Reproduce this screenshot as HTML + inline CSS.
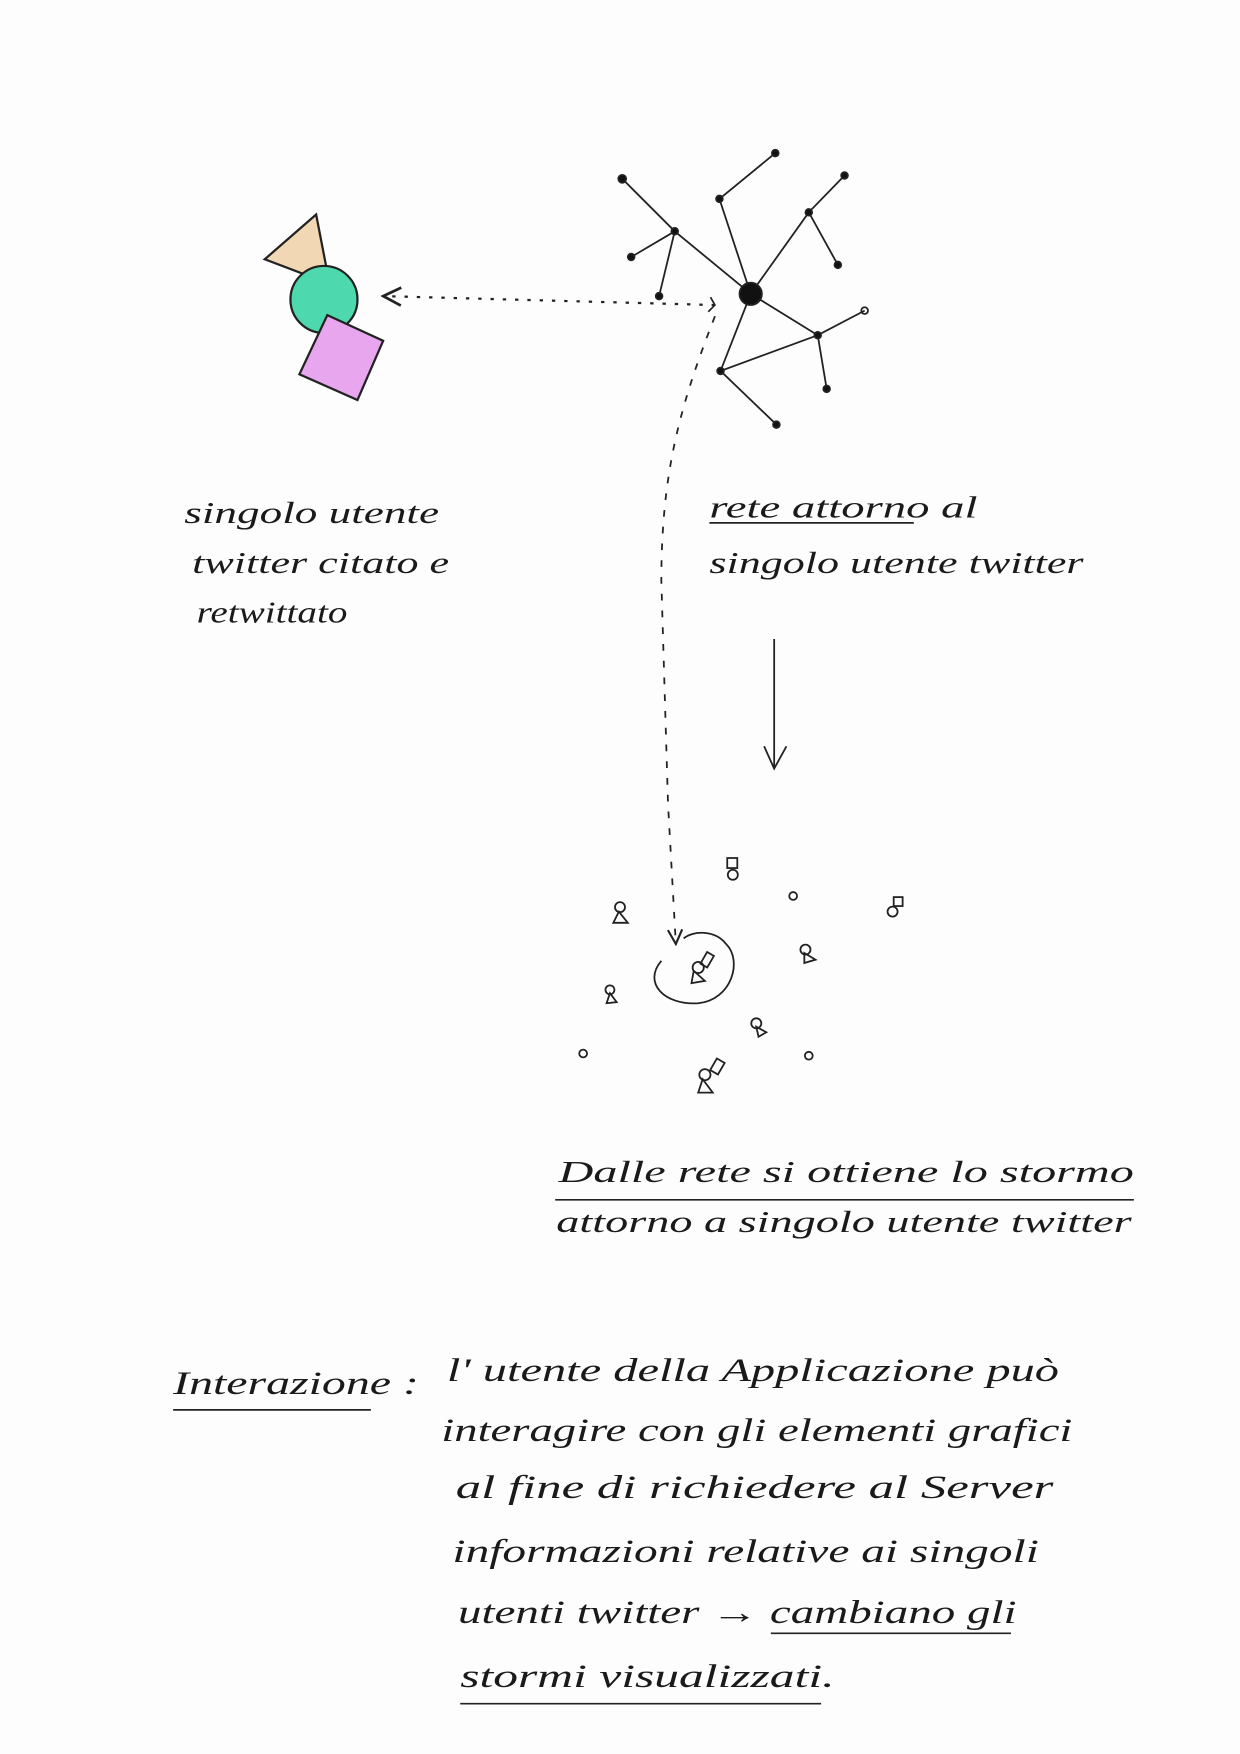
<!DOCTYPE html>
<html><head><meta charset="utf-8"><style>
html,body{margin:0;padding:0;background:#fdfdfd;}
svg{display:block}
text{font-family:"Liberation Serif",serif;font-style:italic;fill:#1a1a1a;}
</style></head><body>
<svg width="1240" height="1754" viewBox="0 0 1110 1570" xmlns="http://www.w3.org/2000/svg">
<rect width="1110" height="1570" fill="#fdfdfd"/>
<defs>
<marker id="ah" viewBox="0 0 10 10" refX="9" refY="5" markerWidth="10" markerHeight="10" orient="auto"><path d="M1 1 L9 5 L1 9" fill="none" stroke="#222" stroke-width="1.2"/></marker>
</defs>
<!-- user shapes -->
<g stroke="#222" stroke-width="2">
<polygon points="237,232 283,192 295,254" fill="#f1d7b3"/>
<circle cx="290" cy="268" r="30" fill="#4ed8ad"/>
<polygon points="293,282 343,305 320,358 268,335" fill="#e8a6ef"/>
</g>
<!-- network -->
<g stroke="#222" stroke-width="1.6" fill="#111">
<path d="M672,263 L604,207 L557,160 M604,207 L565,230 M604,207 L590,265 M672,263 L644,178 L694,137 M672,263 L724,190 L756,157 M724,190 L750,237 M672,263 L732,300 L774,278 M732,300 L740,348 M672,263 L645,332 L732,300 M645,332 L695,380" fill="none"/>
<circle cx="672" cy="263" r="10"/>
<circle cx="604" cy="207" r="3"/><circle cx="557" cy="160" r="3.5"/><circle cx="565" cy="230" r="3"/><circle cx="590" cy="265" r="3"/>
<circle cx="644" cy="178" r="3"/><circle cx="694" cy="137" r="3"/><circle cx="724" cy="190" r="3"/><circle cx="756" cy="157" r="3"/><circle cx="750" cy="237" r="3"/>
<circle cx="732" cy="300" r="3"/><circle cx="774" cy="278" r="3" fill="none"/><circle cx="740" cy="348" r="3"/><circle cx="645" cy="332" r="3"/><circle cx="695" cy="380" r="3"/>
</g>
<!-- dotted arrows -->
<path d="M640,273 L343,265" stroke="#222" stroke-width="2" stroke-dasharray="3,8" fill="none" marker-end="url(#ah)"/>
<path d="M636,266 L640,273 L634,279" stroke="#222" stroke-width="1.5" fill="none"/>
<path d="M640,283 C610,360 592,420 592,520 L598,720 L605,845" stroke="#222" stroke-width="1.6" stroke-dasharray="6,9" fill="none" marker-end="url(#ah)"/>
<!-- down arrow -->
<g stroke="#222" stroke-width="1.6" fill="none">
<path d="M693,572 L693,688 M684,668 L693,688 L704,668"/>
</g>
<!-- flock -->
<g stroke="#222" stroke-width="1.6" fill="none">
<path d="M592,860 C575,880 595,900 625,898 C655,895 665,860 650,845 C640,832 620,833 612,840"/>
<g transform="translate(625,866)"><circle r="5"/><path d="M-4,3 L-6,14 L6,12 Z"/><rect x="0" y="-16" width="7" height="12" transform="rotate(30)"/></g>
<g transform="translate(555,812)"><circle r="4.5"/><path d="M-1,4 L-6,14 L7,14 Z"/></g>
<g transform="translate(656,783)"><circle r="4.5"/><rect x="-5" y="-15" width="9" height="9"/></g>
<circle cx="710" cy="802" r="3.5"/>
<g transform="translate(799,816)"><circle r="4.5"/><rect x="1" y="-13" width="8" height="8"/></g>
<g transform="translate(721,850)"><circle r="4.5"/><path d="M-1,3 L-1,12 L9,9 Z"/></g>
<g transform="translate(546,886)"><circle r="4"/><path d="M0,3 L-3,12 L6,11 Z"/></g>
<g transform="translate(677,916)"><circle r="4.5"/><path d="M0,3 L2,12 L9,8 Z"/></g>
<circle cx="522" cy="943" r="3.5"/>
<circle cx="724" cy="945" r="3.5"/>
<g transform="translate(631,962)"><circle r="5"/><path d="M-2,4 L-6,16 L7,16 Z"/><rect x="2" y="-18" width="8" height="12" transform="rotate(30)"/></g>
</g>
<!-- labels -->
<g font-size="27">
<text x="165" y="468" textLength="228" lengthAdjust="spacingAndGlyphs">singolo utente</text>
<text x="172" y="513" textLength="230" lengthAdjust="spacingAndGlyphs">twitter citato e</text>
<text x="176" y="557" textLength="135" lengthAdjust="spacingAndGlyphs">retwittato</text>
</g>
<g font-size="27">
<text x="635" y="463" textLength="240" lengthAdjust="spacingAndGlyphs">rete attorno al</text>
<line x1="635" y1="468" x2="818" y2="468" stroke="#222" stroke-width="1.5"/>
<text x="635" y="513" textLength="335" lengthAdjust="spacingAndGlyphs">singolo utente twitter</text>
</g>
<g font-size="27">
<text x="500" y="1058" textLength="515" lengthAdjust="spacingAndGlyphs">Dalle rete si ottiene lo stormo</text>
<line x1="497" y1="1074" x2="1015" y2="1074" stroke="#222" stroke-width="1.5"/>
<text x="498" y="1103" textLength="515" lengthAdjust="spacingAndGlyphs">attorno a singolo utente twitter</text>
</g>
<g font-size="29">
<text x="155" y="1248" textLength="220" lengthAdjust="spacingAndGlyphs">Interazione :</text>
<line x1="155" y1="1262" x2="332" y2="1262" stroke="#222" stroke-width="1.5"/>
<text x="400" y="1236" textLength="548" lengthAdjust="spacingAndGlyphs">l' utente della Applicazione può</text>
<text x="395" y="1290" textLength="565" lengthAdjust="spacingAndGlyphs">interagire con gli elementi grafici</text>
<text x="408" y="1341" textLength="535" lengthAdjust="spacingAndGlyphs">al fine di richiedere al Server</text>
<text x="405" y="1398" textLength="525" lengthAdjust="spacingAndGlyphs">informazioni relative ai singoli</text>
<text x="410" y="1453" textLength="500" lengthAdjust="spacingAndGlyphs">utenti twitter → cambiano gli</text>
<line x1="690" y1="1462" x2="905" y2="1462" stroke="#222" stroke-width="1.5"/>
<text x="412" y="1510" textLength="335" lengthAdjust="spacingAndGlyphs">stormi visualizzati.</text>
<line x1="412" y1="1525" x2="735" y2="1525" stroke="#222" stroke-width="1.5"/>
</g>
</svg>
</body></html>
